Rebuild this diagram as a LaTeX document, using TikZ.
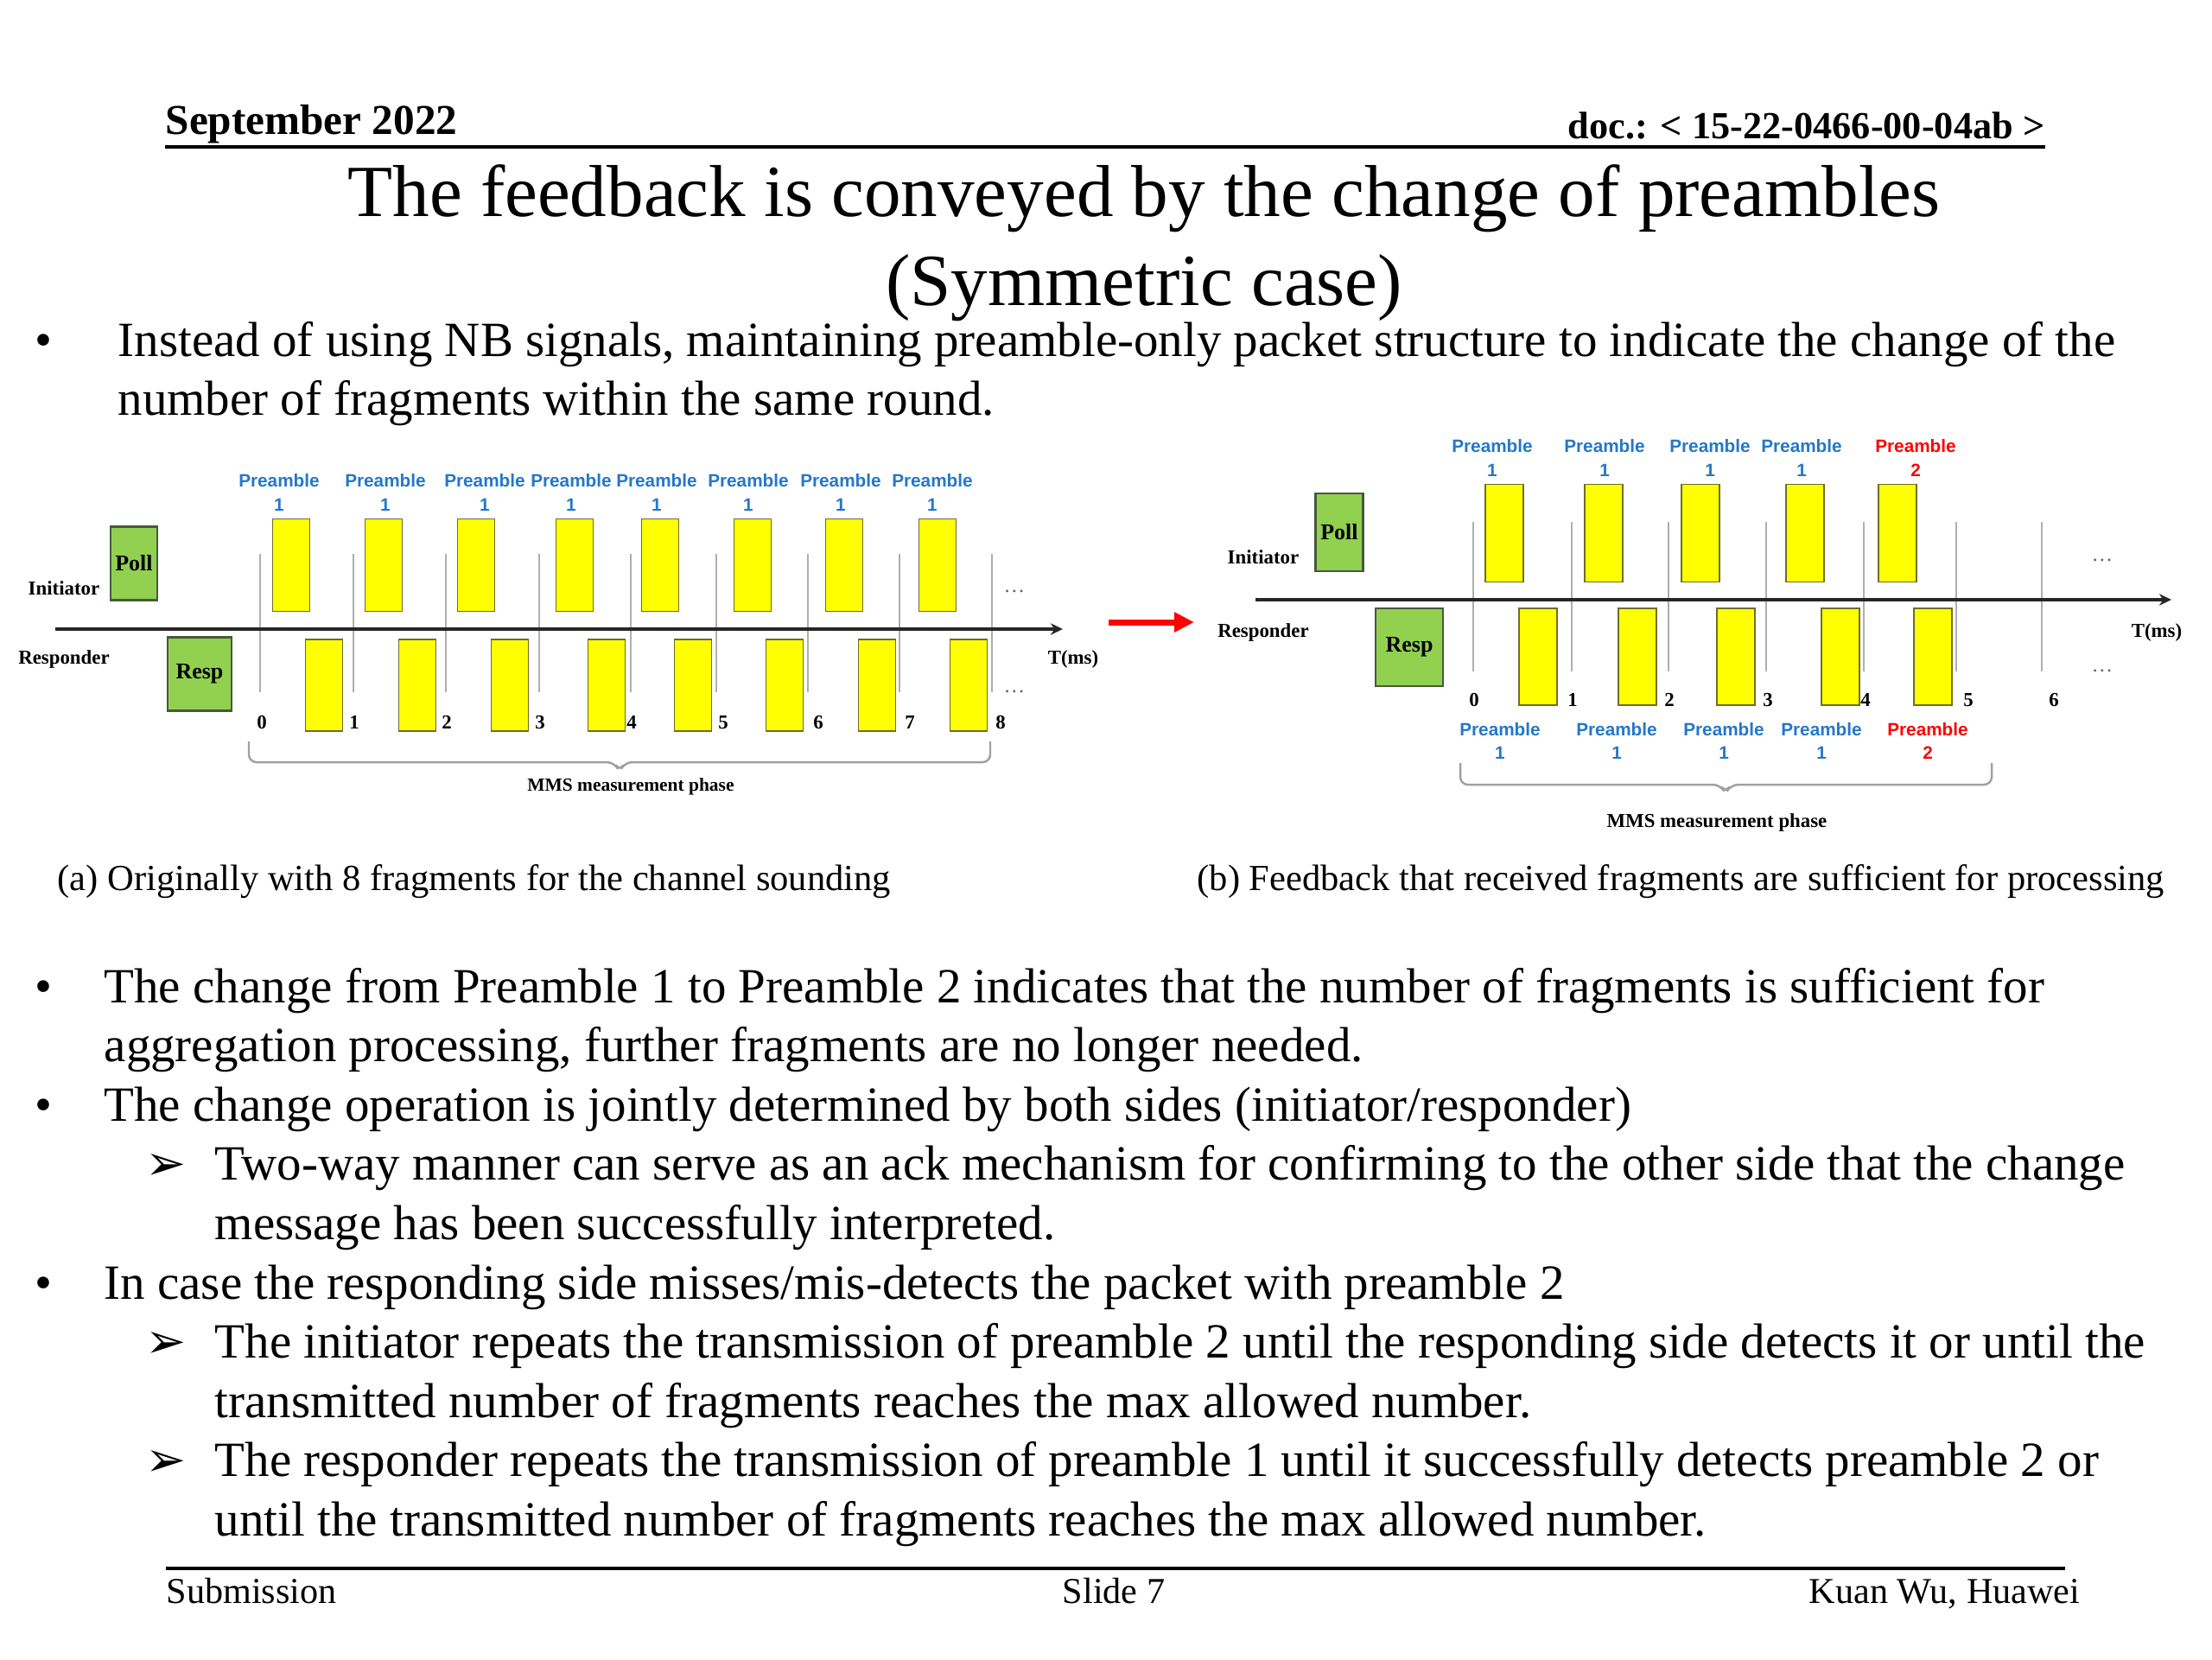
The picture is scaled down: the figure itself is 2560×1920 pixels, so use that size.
\documentclass[tikz,border=0pt]{standalone}
\usepackage{fontspec}
\setmainfont{Liberation Serif}
\setsansfont{Liberation Sans}
\newfontfamily\dingfont{DejaVu Sans}
\usetikzlibrary{positioning, arrows.meta}
\definecolor{pollgreen}{RGB}{146,208,80}
\definecolor{pollframe}{RGB}{70,90,60}
\definecolor{slotyellow}{RGB}{255,255,0}
\definecolor{slotframe}{RGB}{110,110,40}
\definecolor{preblue}{RGB}{36,120,200}
\definecolor{prered}{RGB}{255,0,0}
\definecolor{tickgrey}{RGB}{175,175,175}
\definecolor{bracegrey}{RGB}{160,160,160}
\tikzset {
    >={Stealth[length=4pt, width=3.8pt]},
    every node/.style={inner sep=0pt},
    bodyline/.style={anchor=base west, font=\fontsize{16.2}{19.5}\selectfont},
    bulletmark/.style={anchor=base, font=\fontsize{16.2}{19.5}\selectfont},
    submark/.style={anchor=base, font=\dingfont\fontsize{16}{18}\selectfont},
    slot/.style={draw=slotframe, fill=slotyellow, line width=0.5pt, minimum width=0.43cm},
    msgbox/.style={draw=pollframe, fill=pollgreen, line width=0.6pt, font=\bfseries\fontsize{7.4}{8}\selectfont},
    sidelabel/.style={font=\bfseries\fontsize{6.5}{7}\selectfont},
    prelabel/.style={align=center, text=preblue, font=\sffamily\bfseries\fontsize{5.9}{7.7}\selectfont},
    ticknum/.style={font=\bfseries\fontsize{6.5}{7}\selectfont},
    tick/.style={draw=tickgrey, line width=0.45pt},
    timeaxis/.style={->, draw=black!85, line width=1pt},
    phasebrace/.style={draw=bracegrey, line width=0.7pt, rounded corners=2.5pt},
    more/.style={text=black!60, font=\fontsize{7}{8}\selectfont},
    caption/.style={anchor=base west, font=\fontsize{12.1}{14}\selectfont},
    footer/.style={anchor=base, font=\fontsize{12}{14}\selectfont}
}

\begin{document}
\begin{tikzpicture}[x=0.01cm, y=-0.01cm]
\useasboundingbox (0,0) rectangle (2560,1920);
\fill[white] (0,0) rectangle (2560,1920);

% header
\node[anchor=base west, font=\bfseries\fontsize{14}{16}\selectfont] (date) at (191,155) {September 2022};
\node[anchor=base east, font=\bfseries\fontsize{12.6}{16}\selectfont] (docid) at (2367,160) {doc.: < 15-22-0466-00-04ab >};
\coordinate (hdrL) at (191,170);
\coordinate (hdrR) at (2367,170);
\draw[line width=1.1pt] (hdrL) -- (hdrR);

% title
\node[anchor=base, font=\fontsize{24.2}{29}\selectfont] (title1) at (1324,250) {The feedback is conveyed by the change of preambles};
\node[anchor=base, font=\fontsize{24.2}{29}\selectfont] (title2) at (1324,353) {(Symmetric case)};

% first bullet
\node[bulletmark] (dot1) at (50,412) {\textbullet};
\node[bodyline] (line1) at (136,412) {Instead of using NB signals, maintaining preamble-only packet structure to indicate the change of the};
\node[bodyline] (line2) at (136,480) {number of fragments within the same round.};

% (a) original exchange
\coordinate (axA0) at (64,728);
\coordinate (axA1) at (1230,728);
\node[sidelabel] (initA) at (74,681) {Initiator};
\node[sidelabel] (respA) at (74,763) {Responder};
\node[sidelabel] (timeA) at (1242,763) {T(ms)};
\node[msgbox, minimum width=0.54cm, minimum height=0.85cm] (pollA) at (155,652) {Poll};
\node[msgbox, minimum width=0.74cm, minimum height=0.85cm] (respboxA) at (231,780) {Resp};
\foreach \x [count=\i from 0] in {301,409,516,624,730,829,935,1041,1148} {
    \coordinate (tA\i) at (\x,641);
    \coordinate (bA\i) at (\x,801);
    \draw[tick] (tA\i) -- (bA\i);
}
\foreach \x [count=\i from 0] in {303,410,517,625,731,837,947,1053,1158}
    \node[ticknum] (nA\i) at (\x,836) {\i};
\foreach \x [count=\i] in {337,444,551,665,764,871,977,1085}
    \node[slot, minimum height=1.07cm] (iA\i) at (\x,654) {};
\foreach \x [count=\i] in {375,483,590,702,802,908,1015,1121}
    \node[slot, minimum height=1.06cm] (rA\i) at (\x,793) {};
\foreach \x [count=\i] in {323,446,561,661,760,866,973,1079}
    \node[prelabel] (pA\i) at (\x,570) {Preamble\\1};
\draw[timeaxis] (axA0) -- (axA1);
\node[more] (moreA1) at (1174,684) {\ldots};
\node[more] (moreA2) at (1174,800) {\ldots};
\coordinate (brA0) at (288,858);
\coordinate (brA1) at (1146,858);
\draw[phasebrace] (brA0) -- (288,882) -- (711,882) -- (717,893) -- (723,882) -- (1146,882) -- (brA1);
\node[sidelabel, font=\bfseries\fontsize{6.1}{7}\selectfont] (phaseA) at (730,910) {MMS measurement phase};

% change arrow
\coordinate (chg0) at (1283,720);
\coordinate (chg1) at (1382,720);
\draw[-{Triangle[length=0.23cm, width=0.22cm]}, draw=prered, line width=2pt] (chg0) -- (chg1);

% (b) feedback exchange
\coordinate (axB0) at (1453,694);
\coordinate (axB1) at (2513,694);
\node[sidelabel] (initB) at (1462,645) {Initiator};
\node[sidelabel] (respB) at (1462,732) {Responder};
\node[sidelabel] (timeB) at (2496,732) {T(ms)};
\node[msgbox, minimum width=0.55cm, minimum height=0.90cm] (pollB) at (1550,616) {Poll};
\node[msgbox, minimum width=0.78cm, minimum height=0.90cm] (respboxB) at (1631,749) {Resp};
\foreach \x [count=\i from 0] in {1705,1819,1931,2044,2157,2264,2363} {
    \coordinate (tB\i) at (\x,604);
    \coordinate (bB\i) at (\x,777);
    \draw[tick] (tB\i) -- (bB\i);
}
\foreach \x [count=\i from 0] in {1706,1820,1932,2046,2159,2278,2377}
    \node[ticknum] (nB\i) at (\x,810) {\i};
\foreach \x [count=\i] in {1741,1856,1968,2089,2196}
    \node[slot, minimum width=0.44cm, minimum height=1.13cm] (iB\i) at (\x,617) {};
\foreach \x [count=\i] in {1780,1895,2009,2130,2237}
    \node[slot, minimum width=0.44cm, minimum height=1.12cm] (rB\i) at (\x,760) {};
\foreach \x [count=\i] in {1727,1857,1979,2085}
    \node[prelabel] (pB\i) at (\x,530) {Preamble\\1};
\node[prelabel, text=prered] (pB5) at (2217,530) {Preamble\\2};
\foreach \x [count=\i] in {1736,1871,1995,2108}
    \node[prelabel] (qB\i) at (\x,857) {Preamble\\1};
\node[prelabel, text=prered] (qB5) at (2231,857) {Preamble\\2};
\draw[timeaxis] (axB0) -- (axB1);
\node[more] (moreB1) at (2433,648) {\ldots};
\node[more] (moreB2) at (2433,776) {\ldots};
\coordinate (brB0) at (1690,883);
\coordinate (brB1) at (2305,883);
\draw[phasebrace] (brB0) -- (1690,908) -- (1991,908) -- (1997,918) -- (2003,908) -- (2305,908) -- (brB1);
\node[sidelabel] (phaseB) at (1987,952) {MMS measurement phase};

% captions
\node[caption] (capA) at (66,1030) {(a) Originally with 8 fragments for the channel sounding};
\node[caption] (capB) at (1385,1030) {(b) Feedback that received fragments are sufficient for processing};

% remaining bullets
\node[bulletmark] (dot2) at (50,1160) {\textbullet};
\node[bodyline] (line3) at (120,1160) {The change from Preamble 1 to Preamble 2 indicates that the number of fragments is sufficient for};
\node[bodyline] (line4) at (120,1228) {aggregation processing, further fragments are no longer needed.};
\node[bulletmark] (dot3) at (50,1297) {\textbullet};
\node[bodyline] (line5) at (120,1297) {The change operation is jointly determined by both sides (initiator/responder)};
\node[submark] (sub1) at (192,1365) {➢};
\node[bodyline] (line6) at (248,1365) {Two-way manner can serve as an ack mechanism for confirming to the other side that the change};
\node[bodyline] (line7) at (248,1434) {message has been successfully interpreted.};
\node[bulletmark] (dot4) at (50,1503) {\textbullet};
\node[bodyline] (line8) at (120,1503) {In case the responding side misses/mis-detects the packet with preamble 2};
\node[submark] (sub2) at (192,1571) {➢};
\node[bodyline] (line9) at (248,1571) {The initiator repeats the transmission of preamble 2 until the responding side detects it or until the};
\node[bodyline] (line10) at (248,1640) {transmitted number of fragments reaches the max allowed number.};
\node[submark] (sub3) at (192,1708) {➢};
\node[bodyline] (line11) at (248,1708) {The responder repeats the transmission of preamble 1 until it successfully detects preamble 2 or};
\node[bodyline] (line12) at (248,1777) {until the transmitted number of fragments reaches the max allowed number.};

% footer
\coordinate (ftrL) at (192,1815);
\coordinate (ftrR) at (2390,1815);
\draw[line width=1.1pt] (ftrL) -- (ftrR);
\node[footer, anchor=base west] (sub) at (192,1855) {Submission};
\node[footer] (slide) at (1289,1855) {Slide 7};
\node[footer, anchor=base east] (author) at (2408,1855) {Kuan Wu, Huawei};
\end{tikzpicture}
\end{document}
